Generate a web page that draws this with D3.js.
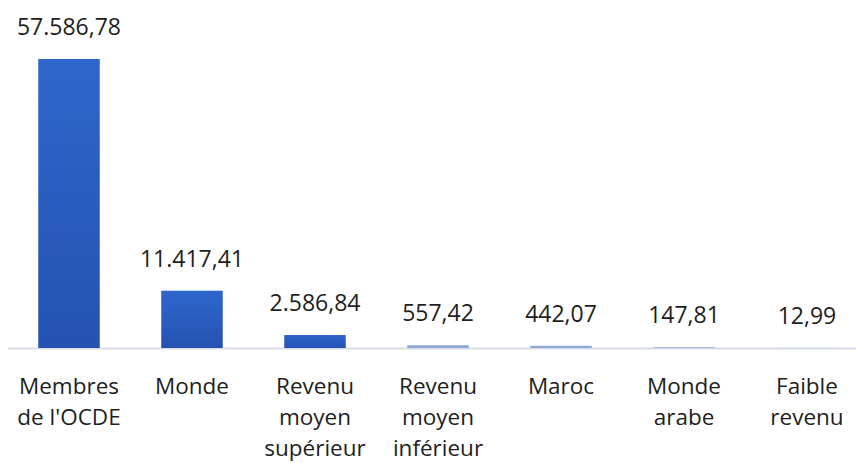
<!DOCTYPE html>
<html>
<head>
<meta charset="utf-8">
<script src="https://cdn.jsdelivr.net/npm/d3@7"></script>
<style>
  body { margin: 0; background: #fff; }
  svg { display: block; font-family: "Open Sans", "Noto Sans", sans-serif; }
</style>
</head>
<body>
<svg id="chart"></svg>
<script>
// Chart data
const categories = [
  ["Membres", "de l'OCDE"],
  ["Monde"],
  ["Revenu", "moyen", "supérieur"],
  ["Revenu", "moyen", "inférieur"],
  ["Maroc"],
  ["Monde", "arabe"],
  ["Faible", "revenu"]
];
const values = [57586.78, 11417.41, 2586.84, 557.42, 442.07, 147.81, 12.99];
const valueLabels = ["57.586,78", "11.417,41", "2.586,84", "557,42", "442,07", "147,81", "12,99"];

const width = 856;
const height = 463;
const baseline = 348;
const plotTop = 59;

const svg = d3.select("#chart")
    .attr("width", width)
    .attr("height", height);

// Gradient for the bars
const grad = svg.append("defs").append("linearGradient")
    .attr("id", "barGrad")
    .attr("x1", 0).attr("y1", 0).attr("x2", 0).attr("y2", 1);
grad.append("stop").attr("offset", "0%").attr("stop-color", "#2f66cc");
grad.append("stop").attr("offset", "100%").attr("stop-color", "#2552b2");

const x = d3.scaleBand()
    .domain(d3.range(categories.length))
    .range([7.5, 7.5 + 123 * categories.length])
    .paddingInner(0.5)
    .paddingOuter(0.25);

const y = d3.scaleLinear()
    .domain([0, d3.max(values)])
    .range([baseline, plotTop]);

// Axis line
svg.append("line")
    .attr("x1", 8).attr("x2", width)
    .attr("y1", baseline + 0.5).attr("y2", baseline + 0.5)
    .attr("stroke", "#d6dbe4")
    .attr("stroke-width", 2);

// Bars
svg.selectAll("rect.bar")
    .data(values)
    .join("rect")
    .attr("class", "bar")
    .attr("x", (d, i) => x(i))
    .attr("width", x.bandwidth())
    .attr("y", d => y(d))
    .attr("height", d => baseline - y(d))
    .attr("fill", d => (baseline - y(d)) < 4 ? "#8fa9d6" : "url(#barGrad)");

// Value labels
svg.selectAll("text.value")
    .data(values)
    .join("text")
    .attr("class", "value")
    .attr("x", (d, i) => x(i) + x.bandwidth() / 2)
    .attr("y", d => y(d) - 24)
    .attr("text-anchor", "middle")
    .attr("font-size", 23)
    .attr("fill", "#1e1e1e")
    .text((d, i) => valueLabels[i]);

// Category labels
const cat = svg.selectAll("text.cat")
    .data(categories)
    .join("text")
    .attr("class", "cat")
    .attr("text-anchor", "middle")
    .attr("font-size", 22.5)
    .attr("fill", "#1e1e1e");

cat.selectAll("tspan")
    .data((d, i) => d.map(line => ({ line, i })))
    .join("tspan")
    .attr("x", d => x(d.i) + x.bandwidth() / 2)
    .attr("y", (d, j) => 394 + j * 31)
    .text(d => d.line);
</script>
</body>
</html>
